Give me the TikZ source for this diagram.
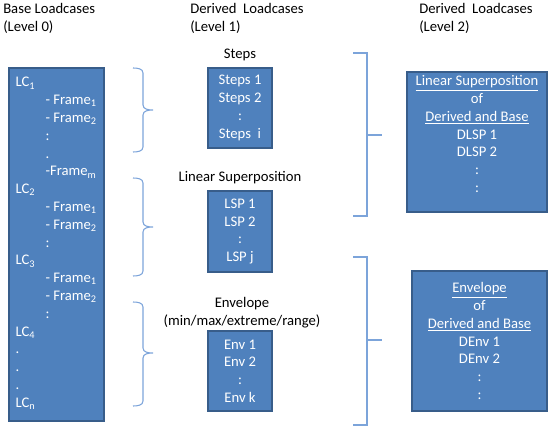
\documentclass[tikz,border=0pt]{standalone}
\usepackage{fontspec}
\setmainfont{Carlito}
\definecolor{boxblue}{RGB}{79,129,189}
\definecolor{boxedge}{RGB}{56,93,138}
\definecolor{bracketblue}{RGB}{124,164,218}
\begin{document}
\begin{tikzpicture}[x=0.75pt,y=-0.75pt]
            \tikzstyle{every node}=[font={\fontsize{11}{13.35}\selectfont}]
            \tikzstyle{lcbox}=[draw=boxedge,line width=1.1pt,fill=boxblue,text=white,inner sep=0pt]
            \tikzstyle{boxtext}=[text=white,align=center,inner sep=0pt]
            \tikzstyle{head}=[align=left,inner sep=0pt,anchor=north west]
            \tikzstyle{bracket}=[draw=bracketblue,line width=0.8pt]
            \useasboundingbox (0,0) rectangle (552,427);
            % column headings
            \draw (3,3) node [head] (h0) {Base Loadcases\\(Level 0)};
            \draw (190,3) node [head] (h1) {Derived~~Loadcases\\(Level 1)};
            \draw (419,3) node [head] (h2) {Derived~~Loadcases\\(Level 2)};
            % level 0
            \draw (56.5,244.5) node [lcbox,minimum width=71.25pt,minimum height=264.75pt] (base) {};
            \draw (base.west) ++(7,-1) node [boxtext,align=left,anchor=west] (basetext)
              {LC\textsubscript{1}\\
               \hspace*{22.5pt}- Frame\textsubscript{1}\\
               \hspace*{22.5pt}- Frame\textsubscript{2}\\
               \hspace*{22.5pt}:\\
               \hspace*{22.5pt}.\\
               \hspace*{22.5pt}-Frame\textsubscript{m}\\
               LC\textsubscript{2}\\
               \hspace*{22.5pt}- Frame\textsubscript{1}\\
               \hspace*{22.5pt}- Frame\textsubscript{2}\\
               \hspace*{22.5pt}:\\
               LC\textsubscript{3}\\
               \hspace*{22.5pt}- Frame\textsubscript{1}\\
               \hspace*{22.5pt}- Frame\textsubscript{2}\\
               \hspace*{22.5pt}:\\
               LC\textsubscript{4}\\
               .\\
               .\\
               .\\
               LC\textsubscript{n}};
            % level 1
            \draw (240,55) node (tsteps) {Steps};
            \draw (240,108) node [lcbox,align=center,minimum width=48pt,minimum height=60pt] (steps)
              {Steps 1\\Steps 2\\:\\Steps~~i};
            \draw (240,178) node (tlsp) {Linear Superposition};
            \draw (240,231.5) node [lcbox,align=center,minimum width=48pt,minimum height=60.75pt] (lsp)
              {LSP 1\\LSP 2\\:\\LSP j};
            \draw (242,313) node [align=center,inner sep=0pt] (tenv) {Envelope\\(min/max/extreme/range)};
            \draw (240,371) node [lcbox,align=center,minimum width=48pt,minimum height=60pt] (env)
              {Env 1\\Env 2\\:\\Env k};
            % level 2
            \draw (477,142) node [lcbox,minimum width=105pt,minimum height=105pt] (dlsp) {};
            \draw (dlsp.north) ++(0,4) node [boxtext,anchor=north] (dlsptext)
              {\underline{Linear Superposition}\\of\\\underline{Derived and Base}\\DLSP 1\\DLSP 2\\:\\:};
            \draw (479.5,341) node [lcbox,minimum width=101.25pt,minimum height=105pt] (denv) {};
            \draw (denv.north) ++(0,12) node [boxtext,anchor=north] (denvtext)
              {\underline{Envelope}\\of\\\underline{Derived and Base}\\DEnv 1\\DEnv 2\\:\\:};
            % braces level 0 -> level 1
            \draw[bracket] (133,68) to[out=0,in=90] (143,73) -- (143,105) to[out=270,in=180] (153,110)
              to[out=180,in=90] (143,115) -- (143,147) to[out=270,in=0] (133,152);
            \draw[bracket] (133,178) to[out=0,in=90] (143,183) -- (143,222) to[out=270,in=180] (153,227)
              to[out=180,in=90] (143,232) -- (143,271) to[out=270,in=0] (133,276);
            \draw[bracket] (133,302) to[out=0,in=90] (143,307) -- (143,348) to[out=270,in=180] (153,353)
              to[out=180,in=90] (143,358) -- (143,401) to[out=270,in=0] (133,406);
            % brackets level 1 -> level 2
            \draw[bracket] (353,53) -- (367,53) -- (367,216) -- (353,216);
            \draw[bracket] (367,135) -- (382,135);
            \draw[bracket] (353,257) -- (367,257) -- (367,425) -- (353,425);
            \draw[bracket] (367,340) -- (382,340);
        \end{tikzpicture}
\end{document}
